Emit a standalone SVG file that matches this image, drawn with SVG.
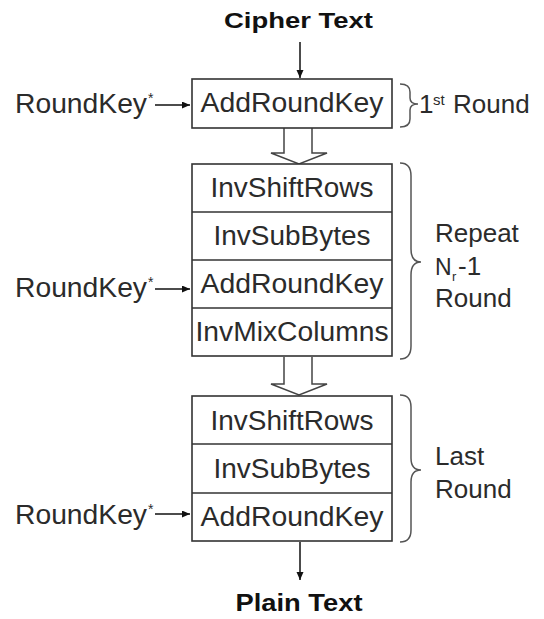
<svg xmlns="http://www.w3.org/2000/svg" width="544" height="619" viewBox="0 0 544 619">
<defs>
<style>
.t{font-family:"Liberation Sans",Arial,sans-serif;fill:#2b2b2b}
.box{font-size:27px}
.bold{font-weight:bold;fill:#111}
.lab{font-size:26px}
.box-r{fill:#fff;stroke:#333;stroke-width:1.6}
.div{stroke:#333;stroke-width:1.6}
.brace{fill:none;stroke:#555;stroke-width:1.5}
.ln{stroke:#111;stroke-width:1.5;fill:none}
.hollow{fill:#fff;stroke:#444;stroke-width:1.5;stroke-linejoin:miter}
</style>
<marker id="ah" markerUnits="userSpaceOnUse" markerWidth="9" markerHeight="8" refX="8" refY="3.5" orient="auto">
<path d="M0,0 L8,3.5 L0,7 z" fill="#111"/>
</marker>
</defs>
<rect width="544" height="619" fill="#fff"/>

<g id="connectors">
<line class="ln" x1="300" y1="42" x2="300" y2="78" marker-end="url(#ah)"/>
<line class="ln" x1="155" y1="105" x2="190" y2="105" marker-end="url(#ah)"/>
<line class="ln" x1="155" y1="289" x2="190" y2="289" marker-end="url(#ah)"/>
<line class="ln" x1="155" y1="514" x2="190" y2="514" marker-end="url(#ah)"/>
<line class="ln" x1="300" y1="542" x2="300" y2="580" marker-end="url(#ah)"/>
<path class="hollow" d="M284,128 L284,153 L271,153 L299,164 L327,153 L312,153 L312,128"/>
<path class="hollow" d="M284,357 L284,384 L271,384 L299,395 L327,384 L312,384 L312,357"/>
</g>

<g id="cipher-text">
<text class="t bold" x="298.5" y="28" font-size="22" text-anchor="middle" textLength="149" lengthAdjust="spacingAndGlyphs">Cipher Text</text>
</g>

<g id="first-round">
<rect class="box-r" x="192" y="79" width="200" height="49"/>
<text class="t box" x="292" y="112" text-anchor="middle" textLength="183" lengthAdjust="spacingAndGlyphs">AddRoundKey</text>
</g>

<g id="middle-rounds">
<rect class="box-r" x="192" y="164" width="200" height="192"/>
<line class="div" x1="192" y1="212" x2="392" y2="212"/>
<line class="div" x1="192" y1="260" x2="392" y2="260"/>
<line class="div" x1="192" y1="308" x2="392" y2="308"/>
<text class="t box" x="292" y="197" text-anchor="middle" textLength="163" lengthAdjust="spacingAndGlyphs">InvShiftRows</text>
<text class="t box" x="292" y="245" text-anchor="middle" textLength="157" lengthAdjust="spacingAndGlyphs">InvSubBytes</text>
<text class="t box" x="292" y="293" text-anchor="middle" textLength="183" lengthAdjust="spacingAndGlyphs">AddRoundKey</text>
<text class="t box" x="292" y="341" text-anchor="middle" textLength="193" lengthAdjust="spacingAndGlyphs">InvMixColumns</text>
</g>

<g id="last-round">
<rect class="box-r" x="192" y="396" width="200" height="145"/>
<line class="div" x1="192" y1="444" x2="392" y2="444" stroke-width="3"/>
<line class="div" x1="192" y1="493" x2="392" y2="493"/>
<text class="t box" x="292" y="430" text-anchor="middle" textLength="163" lengthAdjust="spacingAndGlyphs">InvShiftRows</text>
<text class="t box" x="292" y="478" text-anchor="middle" textLength="157" lengthAdjust="spacingAndGlyphs">InvSubBytes</text>
<text class="t box" x="292" y="526" text-anchor="middle" textLength="183" lengthAdjust="spacingAndGlyphs">AddRoundKey</text>
</g>

<g id="plain-text">
<text class="t bold" x="299" y="611" font-size="23" text-anchor="middle" textLength="127" lengthAdjust="spacingAndGlyphs">Plain Text</text>
</g>

<g id="roundkey-1">
<text class="t box" x="15" y="113" textLength="132" lengthAdjust="spacingAndGlyphs">RoundKey</text>
<text class="t" x="148" y="103" font-size="14">*</text>
</g>
<g id="roundkey-2">
<text class="t box" x="15" y="297" textLength="132" lengthAdjust="spacingAndGlyphs">RoundKey</text>
<text class="t" x="148" y="287" font-size="14">*</text>
</g>
<g id="roundkey-3">
<text class="t box" x="15" y="524" textLength="132" lengthAdjust="spacingAndGlyphs">RoundKey</text>
<text class="t" x="148" y="514" font-size="14">*</text>
</g>

<g id="brace-first">
<path class="brace" d="M400,84 Q410,84 410,92 L410,98 Q410,104 418,104 Q410,104 410,110 L410,119 Q410,127 400,127"/>
<text class="t lab" x="419" y="113">1</text>
<text class="t" x="433" y="105" font-size="15">st</text>
<text class="t lab" x="453" y="113">Round</text>
</g>

<g id="brace-repeat">
<path class="brace" d="M400,163 Q411,163 411,176 L411,249 Q411,262 421,262 Q411,262 411,275 L411,346 Q411,359 400,359"/>
<text class="t lab" x="435" y="242">Repeat</text>
<text class="t" x="435" y="275" font-size="23">N</text>
<text class="t" x="452" y="281" font-size="13">r</text>
<text class="t lab" x="458" y="275">-1</text>
<text class="t lab" x="435" y="307">Round</text>
</g>

<g id="brace-last">
<path class="brace" d="M400,395 Q411,395 411,407 L411,458 Q411,470 421,470 Q411,470 411,482 L411,530 Q411,542 400,542"/>
<text class="t lab" x="435" y="465">Last</text>
<text class="t lab" x="435" y="498">Round</text>
</g>
</svg>
